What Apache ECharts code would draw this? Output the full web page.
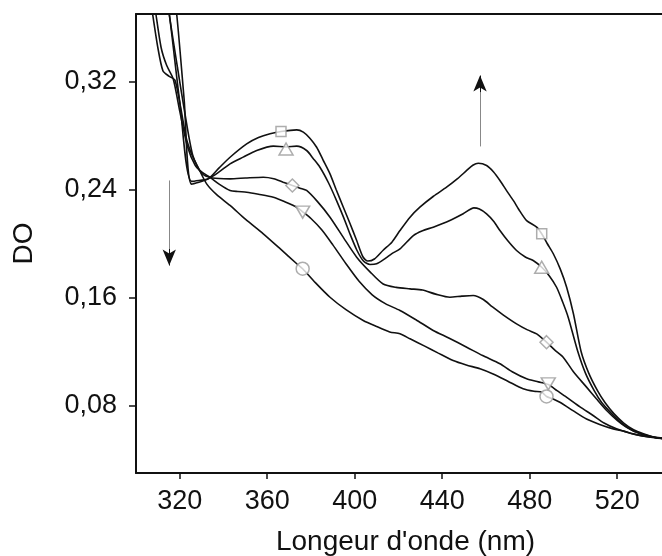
<!DOCTYPE html>
<html>
<head>
<meta charset="utf-8">
<script src="https://cdn.jsdelivr.net/npm/echarts@6/dist/echarts.min.js"></script>
<style>
html,body{margin:0;padding:0;background:#fff;overflow:hidden;}
#chart{width:662px;height:556px;}
</style>
</head>
<body>
<div id="chart"></div>
<script>
// Tick labels
const xTicks = [320, 360, 400, 440, 480, 520];
const yTicks = [0.08, 0.16, 0.24, 0.32];

// Series (wavelength nm, DO)
const squareNm = [316,318.6,322,325.4,333,338,343,350.6,356,361.3,366.3,373.5,376.5,379.5,382.6,385.5,388.7,391.5,394.8,397.8,400.9,403.8,406,409,413,417,420.7,425.3,429.8,436,442,447,451.2,454,456.5,460.3,463.5,466.4,469.5,472.5,475.5,478.6,483.2,485.5,488,490.8,494,496.9,500,503.5,507,511,514.5,518.5,523,527.5,532,537,541,545];
const squareDO = [0.40,0.37,0.307,0.244,0.2479,0.256,0.2639,0.2738,0.2785,0.2813,0.283,0.2842,0.2825,0.278,0.2713,0.262,0.2516,0.24,0.2269,0.215,0.2022,0.19,0.187,0.1885,0.195,0.201,0.2096,0.2195,0.2269,0.235,0.2417,0.248,0.2541,0.258,0.2595,0.2578,0.253,0.2467,0.239,0.2319,0.224,0.217,0.2121,0.2072,0.2,0.1924,0.181,0.1676,0.148,0.12,0.104,0.091,0.082,0.074,0.067,0.062,0.059,0.0565,0.0555,0.055];

const triUpNm = [312,315.2,320,325.4,333,338,343,349,355.2,362.8,368.6,373.5,378,381,384.1,388,391.7,395,397.8,401,404,407,410,414,417,420.7,426.8,431,435.9,443.5,449.6,454.5,457,460.3,463.5,466.4,470,474,478,481.6,485.5,489,492.3,495,497.6,502,505.5,509.5,513,517.5,522,527,532,537,541,545];
const triUpDO = [0.40,0.37,0.305,0.246,0.248,0.253,0.259,0.264,0.2689,0.2721,0.2715,0.2721,0.2689,0.263,0.2565,0.245,0.2318,0.219,0.2072,0.195,0.187,0.1845,0.185,0.189,0.1925,0.196,0.2059,0.2095,0.2121,0.217,0.222,0.2264,0.2255,0.222,0.2165,0.2096,0.202,0.1948,0.19,0.1874,0.1824,0.176,0.1676,0.157,0.1454,0.12,0.104,0.091,0.082,0.074,0.067,0.0615,0.0585,0.0565,0.0555,0.055];

const diamondNm = [313,315.2,319,322.5,326,330,335,343,350,358.2,363,367.3,371.5,375,378,383,388.7,395,400.9,407,413,419,425.3,431,437,443.5,449,454.2,458.8,463,468,474,479,483.2,487.7,491.5,495.3,500,506,510.5,515.2,520,524.3,530,535,541,545];
const diamondDO = [0.40,0.37,0.33,0.295,0.265,0.252,0.2485,0.2479,0.2485,0.2491,0.248,0.2454,0.243,0.241,0.2393,0.231,0.2195,0.204,0.1899,0.179,0.17,0.1675,0.1664,0.1655,0.1625,0.1602,0.161,0.1615,0.1585,0.153,0.147,0.1405,0.136,0.1331,0.1269,0.121,0.1158,0.105,0.0936,0.085,0.0763,0.069,0.0639,0.0595,0.057,0.0555,0.055];

const triDownNm = [306.5,309.1,311.5,314,317,320,323.5,327,330,333.8,338,343,346.5,350.6,356,362.8,368,373.5,376.2,380,385,390,396,402,408,414,420.7,428,435.9,443,451.2,458.5,466.4,472,478.6,484,488.5,492.5,496.8,503,509,514,519.7,526,532,537,541,545];
const triDownDO = [0.40,0.37,0.345,0.332,0.322,0.298,0.272,0.258,0.253,0.2491,0.244,0.2393,0.2385,0.238,0.2365,0.2343,0.231,0.2269,0.2235,0.2185,0.21,0.199,0.185,0.172,0.162,0.1555,0.1504,0.1435,0.1356,0.13,0.1232,0.117,0.1109,0.105,0.0998,0.0975,0.0955,0.091,0.0862,0.079,0.0726,0.067,0.0627,0.0595,0.0575,0.0562,0.0555,0.055];

const circleNm = [305,307.6,310,312.3,315,317.8,320.5,323,325.5,328.5,332.3,337,343,350,358.2,366,373.5,376.2,382,388.7,396,403.9,410,416,420.7,425.3,432,438,445,451,457.3,463,470,477,482,485.5,487.7,490.5,493.8,500,506,512,518.2,523,527.3,533,540.5,545];
const circleDO = [0.40,0.37,0.345,0.328,0.324,0.321,0.30,0.278,0.266,0.256,0.2442,0.236,0.2282,0.218,0.2072,0.196,0.185,0.1813,0.171,0.1602,0.151,0.143,0.1385,0.1345,0.1331,0.1294,0.124,0.119,0.1133,0.11,0.1072,0.1035,0.098,0.0924,0.0905,0.0899,0.0867,0.085,0.0824,0.076,0.07,0.066,0.0627,0.061,0.059,0.057,0.056,0.0555];

// Marker positions (nm, DO)
const squareMarks = [[366.3,0.283],[485.5,0.2072]];
const triUpMarks = [[368.6,0.270],[485.5,0.1824]];
const diamondMarks = [[371.5,0.243],[487.7,0.1269]];
const triDownMarks = [[376.2,0.2232],[488.5,0.096]];
const circleMarks = [[376.2,0.1813],[487.7,0.0867]];

// Arrow annotations (nm, DO): shaft start, head start, tip
const arrowDown = [[315.2,0.2467],[315.2,0.196],[315.2,0.1837]];
const arrowUp = [[457.3,0.2719],[457.3,0.312],[457.3,0.3244]];

const FONT = 'Liberation Sans, Arial, sans-serif';
const zip = (xs, ys) => xs.map((x, i) => [x, ys[i]]);

function lineSeries(name, xs, ys, extra) {
  return Object.assign({
    name: name, type: 'line', data: zip(xs, ys),
    showSymbol: false, symbol: 'none', smooth: 0.25, clip: true,
    lineStyle: {color: '#111', width: 1.6}, z: 2, silent: true
  }, extra || {});
}
function markSeries(name, pts, symbol, size, rotate) {
  return {
    name: name, type: 'scatter', data: pts, symbol: symbol, symbolSize: size,
    symbolRotate: rotate || 0, z: 5, silent: true,
    itemStyle: {color: '#fff', borderColor: '#999', borderWidth: 1.5}
  };
}
const shaft = (a) => [
  {coord: a[0], symbol: 'none', lineStyle: {color: '#888', width: 1}},
  {coord: a[1], symbol: 'none'}
];
const head = (a) => [
  {coord: a[1], symbol: 'none', lineStyle: {color: '#111', width: 1}},
  {coord: a[2], symbol: 'arrow'}
];

const chart = echarts.init(document.getElementById('chart'), null, {renderer: 'canvas'});
chart.setOption({
  animation: false,
  backgroundColor: '#fff',
  grid: {left: 136, top: 14, right: 0, height: 459, show: false, outerBoundsMode: 'none', containLabel: false},
  xAxis: [{
    type: 'value', min: 300, max: 540.5,
    name: "Longeur d'onde (nm)", nameLocation: 'middle', nameGap: 55,
    nameTextStyle: {fontSize: 28, color: '#111', fontFamily: FONT, padding: [0, 0, 0, 13]},
    axisLine: {show: true, lineStyle: {color: '#111', width: 2}},
    axisTick: {show: true, inside: false, length: 6, lineStyle: {color: '#111', width: 1.5}, customValues: xTicks},
    axisLabel: {fontSize: 27, color: '#111', fontFamily: FONT, margin: 15, customValues: xTicks},
    splitLine: {show: false}
  }, {
    type: 'value', min: 300, max: 540.5, position: 'top',
    axisLine: {show: true, lineStyle: {color: '#111', width: 2}},
    axisTick: {show: false}, axisLabel: {show: false}, splitLine: {show: false}
  }],
  yAxis: {
    type: 'value', min: 0.03, max: 0.37,
    name: 'DO', nameLocation: 'middle', nameGap: 98,
    nameTextStyle: {fontSize: 28, color: '#111', fontFamily: FONT},
    axisLine: {show: true, lineStyle: {color: '#111', width: 2}},
    axisTick: {show: true, inside: false, length: 7, lineStyle: {color: '#111', width: 1.5}, customValues: yTicks},
    axisLabel: {fontSize: 27, color: '#111', fontFamily: FONT, margin: 19, customValues: yTicks,
      formatter: v => v.toFixed(2).replace('.', ',')},
    splitLine: {show: false}
  },
  series: [
    lineSeries('square', squareNm, squareDO, {
      markLine: {
        silent: true, symbolSize: [10, 16],
        label: {show: false},
        lineStyle: {type: 'solid'},
        data: [shaft(arrowDown), head(arrowDown), shaft(arrowUp), head(arrowUp)]
      }
    }),
    lineSeries('triUp', triUpNm, triUpDO),
    lineSeries('diamond', diamondNm, diamondDO),
    lineSeries('triDown', triDownNm, triDownDO),
    lineSeries('circle', circleNm, circleDO),
    markSeries('squareM', squareMarks, 'rect', 10),
    markSeries('triUpM', triUpMarks, 'triangle', [14, 12]),
    markSeries('diamondM', diamondMarks, 'diamond', 13),
    markSeries('triDownM', triDownMarks, 'triangle', [14, 12], 180),
    markSeries('circleM', circleMarks, 'circle', 13)
  ]
});
</script>
</body>
</html>
